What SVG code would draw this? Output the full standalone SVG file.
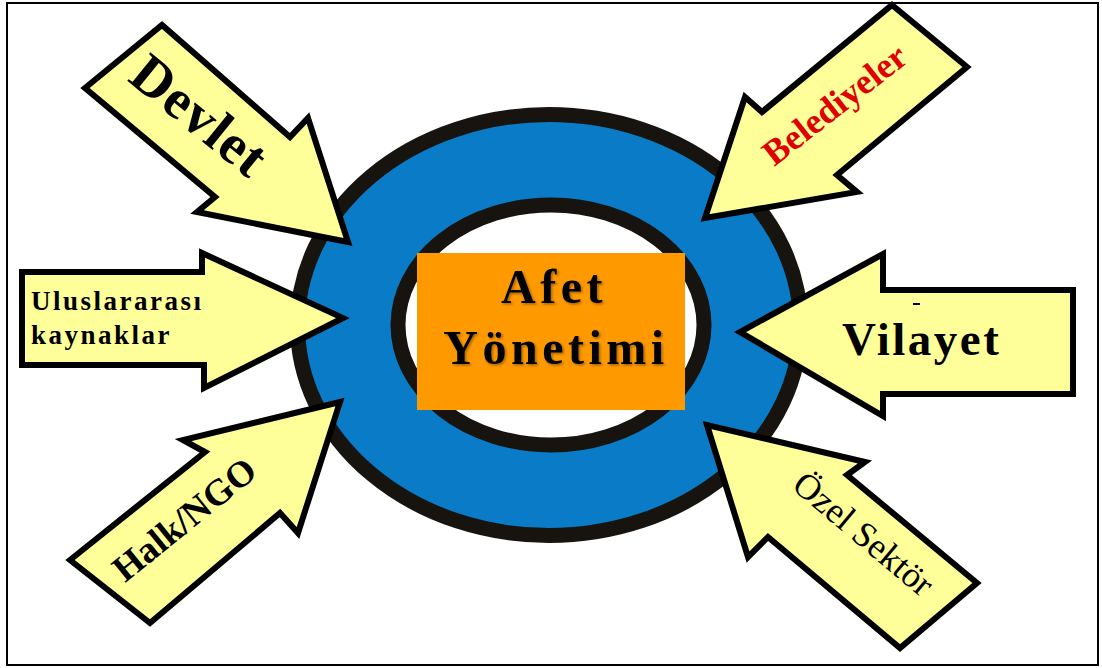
<svg xmlns="http://www.w3.org/2000/svg" width="1102" height="668" viewBox="0 0 1102 668">
<defs>
<style>
.arrow{fill:#FFFF99;stroke:#000;stroke-width:6;stroke-linejoin:miter;stroke-miterlimit:10}
.lbl{font-family:"Liberation Serif","Times New Roman",serif;font-weight:bold;fill:#000}
.center{font-family:"Liberation Serif","Times New Roman",serif;font-weight:bold;font-size:48px;letter-spacing:4.5px;fill:#000;text-anchor:middle}
</style>
<filter id="sh" x="-10%" y="-10%" width="120%" height="130%">
<feDropShadow dx="1.5" dy="1.5" stdDeviation="0.8" flood-color="#000" flood-opacity="0.35"/>
</filter>
</defs>
<rect x="0" y="0" width="1102" height="668" fill="#fff"/>
<rect x="7" y="3" width="1091" height="662" fill="none" stroke="#000" stroke-width="2"/>

<g id="ring">
<ellipse cx="549" cy="325" rx="251.5" ry="210.5" fill="#0A7BC6" stroke="#17130F" stroke-width="15"/>
<ellipse cx="551" cy="325" rx="153" ry="120" fill="#fff" stroke="#17130F" stroke-width="15"/>
</g>

<g id="center-node">
<rect x="417" y="253" width="268" height="157" fill="#FF9900"/>
<text class="center" x="554" y="303" filter="url(#sh)">Afet</text>
<text class="center" x="556" y="364" filter="url(#sh)">Yönetimi</text>
</g>

<g id="connectors">
<g id="arrow-devlet">
<polygon class="arrow" points="85,88 162,25 290,137 308,118 348,242 197,212 215,197"/>
<text class="lbl" font-size="56" letter-spacing="1" text-anchor="middle" transform="translate(188,130) rotate(39)">Devlet</text>
</g>
<g id="arrow-belediyeler">
<polygon class="arrow" points="892,5 967,67 837,175 857,192 705,218 745,97 762,112"/>
<text class="lbl" font-size="36" text-anchor="middle" style="fill:#E00000" transform="translate(842,114) rotate(-38)">Belediyeler</text>
</g>
<g id="arrow-uluslararasi">
<polygon class="arrow" points="22,272 202,272 202,253 343,318 204,388 204,365 22,365"/>
<text class="lbl" font-size="27" letter-spacing="2.5" x="31" y="310">Uluslararası</text>
<text class="lbl" font-size="27" letter-spacing="2.5" x="31" y="344">kaynaklar</text>
</g>
<g id="arrow-vilayet">
<polygon class="arrow" points="1073,290 883,290 883,254 740,332 883,416 883,394 1073,394"/>
<text class="lbl" font-size="47" letter-spacing="2.5" x="842" y="355">Vilayet</text>
<rect x="913" y="303" width="7" height="2" fill="#000"/>
</g>
<g id="arrow-halk">
<polygon class="arrow" points="70,560 205,452 183,440 340,402 298,533 280,513 150,623"/>
<text class="lbl" font-size="37" text-anchor="middle" transform="translate(192,529) rotate(-39)">Halk/NGO</text>
</g>
<g id="arrow-ozel">
<polygon class="arrow" points="977,583 847,475 865,462 707,425 748,557 768,537 900,648"/>
<text font-family="Liberation Serif, Times New Roman, serif" font-size="36" text-anchor="middle" transform="translate(856,543) rotate(40)">Özel Sektör</text>
</g>
</g>
</svg>
